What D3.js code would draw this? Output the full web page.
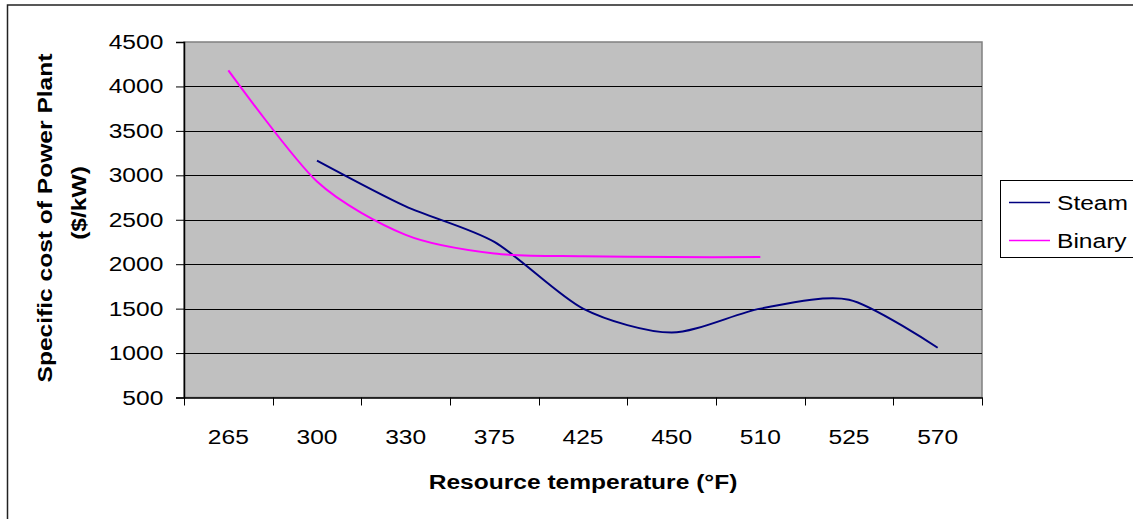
<!DOCTYPE html>
<html>
<head>
<meta charset="utf-8">
<script src="https://cdn.jsdelivr.net/npm/d3@7"></script>
<style>
  html, body { margin: 0; padding: 0; background: #fff; }
  svg { display: block; font-family: Arial, "Liberation Sans", sans-serif; }
</style>
</head>
<body>
<script>
// ---- data ----
const categories = ["265", "300", "330", "375", "425", "450", "510", "525", "570"];
const steamValues = [null, 3165, 2650, 2250, 1500, 1230, 1500, 1600, 1060];
const binaryValues = [4180, 2930, 2330, 2120, 2090, 2080, 2080, null, null];
const yTicks = [500, 1000, 1500, 2000, 2500, 3000, 3500, 4000, 4500];
const seriesNames = ["Steam", "Binary"];
const seriesColors = ["#000080", "#FF00FF"];
const xTitle = "Resource temperature (°F)";
const yTitleLines = ["Specific cost of Power Plant", "($/kW)"];

// ---- layout ----
const W = 1133, H = 519;
const plot = { left: 184, right: 982, top: 42, bottom: 397.5 };
const FS = 21, SX = 1.17;

const svg = d3.select("body").append("svg").attr("width", W).attr("height", H);

// outer frame
svg.append("rect").attr("x", 7.5).attr("y", 5).attr("width", W + 10).attr("height", H + 10)
  .attr("fill", "#fff").attr("stroke", "#222").attr("stroke-width", 1.5);

const x = d3.scaleBand().domain(categories).range([plot.left, plot.right]).padding(0);
const y = d3.scaleLinear().domain([500, 4500]).range([plot.bottom, plot.top]);
const cx = c => x(c) + x.bandwidth() / 2;

// plot area
svg.append("rect").attr("x", plot.left).attr("y", plot.top)
  .attr("width", plot.right - plot.left).attr("height", plot.bottom - plot.top)
  .attr("fill", "#C0C0C0").attr("stroke", "#808080").attr("stroke-width", 1.5);

// gridlines
svg.append("g").selectAll("line").data(yTicks.filter(v => v > 500 && v < 4500)).join("line")
  .attr("x1", plot.left).attr("x2", plot.right)
  .attr("y1", d => Math.round(y(d)) + 0.5).attr("y2", d => Math.round(y(d)) + 0.5)
  .attr("stroke", "#000").attr("stroke-width", 1);

// y axis
const gy = svg.append("g").attr("transform", `translate(${plot.left},0)`)
  .call(d3.axisLeft(y).tickValues(yTicks).tickSize(8).tickFormat(d3.format("d")));
gy.select(".domain").attr("stroke", "#000").attr("stroke-width", 1.5);
gy.selectAll(".tick line").attr("stroke", "#000");
gy.selectAll(".tick text")
  .attr("x", -20.7 / SX).attr("y", 6.5).attr("dy", 0)
  .attr("transform", `scale(${SX},1)`)
  .attr("font-size", FS).attr("font-family", "Arial, 'Liberation Sans', sans-serif").attr("fill", "#000");

// x axis (labels at category centres)
const gx = svg.append("g").attr("transform", `translate(0,${plot.bottom})`)
  .call(d3.axisBottom(x).tickSize(0));
gx.select(".domain").attr("stroke", "#000").attr("stroke-width", 1.5);
gx.selectAll(".tick text")
  .attr("y", 46.5).attr("dy", 0)
  .attr("transform", `scale(${SX},1)`)
  .attr("font-size", FS).attr("font-family", "Arial, 'Liberation Sans', sans-serif").attr("fill", "#000");
// x tick marks at category boundaries
const bounds = categories.map(c => x(c)).concat([plot.right]);
svg.append("g").selectAll("line").data(bounds).join("line")
  .attr("x1", d => Math.round(d) + 0.5).attr("x2", d => Math.round(d) + 0.5)
  .attr("y1", plot.bottom).attr("y2", plot.bottom + 8)
  .attr("stroke", "#000").attr("stroke-width", 1);

// lines
const line = d3.line()
  .defined(d => d.v != null)
  .x(d => cx(d.c)).y(d => y(d.v))
  .curve(d3.curveCardinal.tension(0.2));
[steamValues, binaryValues].forEach((vals, i) => {
  const pts = categories.map((c, j) => ({ c, v: vals[j] })).filter(d => d.v != null);
  svg.append("path").datum(pts)
    .attr("d", line).attr("fill", "none")
    .attr("stroke", seriesColors[i]).attr("stroke-width", 2);
});

// axis titles
svg.append("text").attr("transform", `translate(${(plot.left + plot.right) / 2},489) scale(${SX},1)`)
  .attr("text-anchor", "middle").attr("font-size", FS).attr("font-weight", "bold").text(xTitle);
svg.append("text").attr("transform", `translate(52,218) rotate(-90) scale(${SX},1)`)
  .attr("text-anchor", "middle").attr("font-size", FS).attr("font-weight", "bold").text(yTitleLines[0]);
svg.append("text").attr("transform", `translate(86,203) rotate(-90) scale(${SX},1)`)
  .attr("text-anchor", "middle").attr("font-size", FS).attr("font-weight", "bold").text(yTitleLines[1]);

// legend
const lg = svg.append("g");
lg.append("rect").attr("x", 1000.5).attr("y", 180.5).attr("width", 140).attr("height", 77)
  .attr("fill", "#fff").attr("stroke", "#000").attr("stroke-width", 1);
seriesNames.forEach((n, i) => {
  const ly = 202.5 + i * 38;
  lg.append("line").attr("x1", 1009).attr("x2", 1050).attr("y1", ly).attr("y2", ly)
    .attr("stroke", seriesColors[i]).attr("stroke-width", 1.5);
  lg.append("text").attr("transform", `translate(1057,${ly + 7.5}) scale(${SX},1)`)
    .attr("font-size", FS).attr("fill", "#000").text(n);
});
</script>
</body>
</html>
